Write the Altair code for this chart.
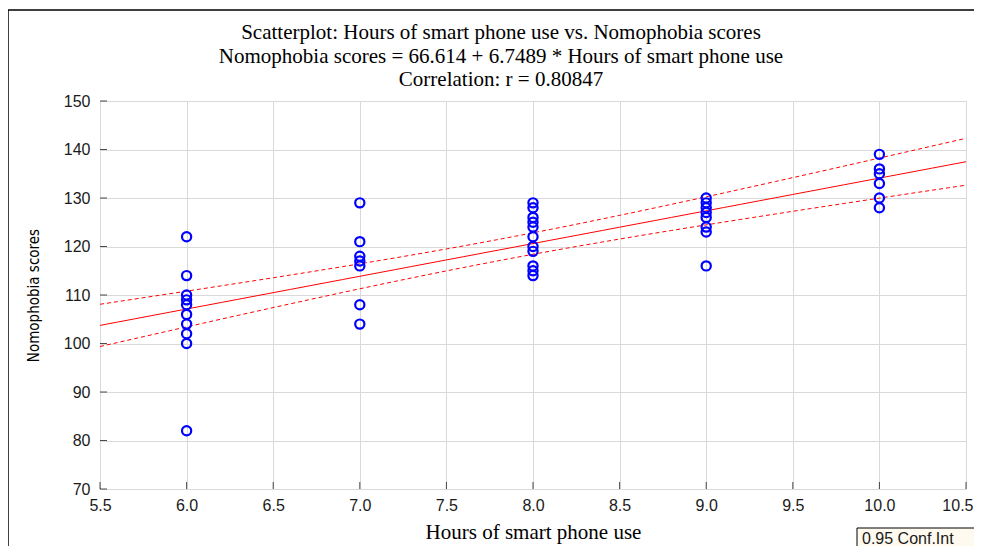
import altair as alt
import numpy as np
import pandas as pd

# ---- data ----
hours_6 = [122, 114, 110, 109, 108, 106, 104, 102, 100, 82]
hours_7 = [129, 121, 118, 117, 116, 108, 104]
hours_8 = [129, 128, 126, 125, 124, 122, 120, 119, 116, 115, 114]
hours_9 = [130, 129, 128, 127, 126, 124, 123, 116]
hours_10 = [139, 136, 135, 133, 130, 128]

intercept = 66.614
slope = 6.7489
x_ticks = [5.5, 6.0, 6.5, 7.0, 7.5, 8.0, 8.5, 9.0, 9.5, 10.0, 10.5]
y_ticks = [70, 80, 90, 100, 110, 120, 130, 140, 150]

title_lines = [
    "Scatterplot: Hours of smart phone use vs. Nomophobia scores",
    "Nomophobia scores = 66.614 + 6.7489 * Hours of smart phone use",
    "Correlation: r = 0.80847",
]
legend_label = ["0.95 Conf.Int"]

# ---- tables ----
rows = []
for h, vals in [(6, hours_6), (7, hours_7), (8, hours_8), (9, hours_9), (10, hours_10)]:
    for v in vals:
        rows.append({"hours": float(h), "score": float(v)})
pts = pd.DataFrame(rows)

xs = pts["hours"].to_numpy()
ys = pts["score"].to_numpy()
n = len(xs)
resid = ys - (intercept + slope * xs)
s = np.sqrt(np.sum(resid ** 2) / (n - 2))
xbar = xs.mean()
sxx = np.sum((xs - xbar) ** 2)
tcrit = 2.021
grid = np.linspace(5.5, 10.5, 51)
fit = intercept + slope * grid
half = tcrit * s * np.sqrt(1.0 / n + (grid - xbar) ** 2 / sxx)
lines = pd.DataFrame({"hours": grid, "fit": fit, "lo": fit - half, "hi": fit + half})

W, H = 866, 388
xscale = alt.Scale(domain=[5.5, 10.5], nice=False, zero=False)
yscale = alt.Scale(domain=[70, 150], nice=False, zero=False)

label_font = "Liberation Sans"
serif = "Liberation Serif"

points = alt.Chart(pts).mark_point(
    shape="circle", filled=False, color="#0000ff", strokeWidth=2.2, size=85, opacity=1
).encode(
    x=alt.X("hours:Q", scale=xscale,
            axis=alt.Axis(values=x_ticks, format=".1f", title="Hours of smart phone use",
                          grid=True, gridColor="#d9d9d9", ticks=False, domain=False,
                          labelFont=label_font, labelFontSize=16, labelColor="#1a1a1a",
                          labelPadding=8, titleFont=serif, titleFontSize=21,
                          titleFontWeight="normal", titleColor="#000000", titlePadding=8,
                          labelFlush=False,
                          labelAlign=alt.expr("datum.value >= 10.5 ? 'right' : 'center'"),
                          labelOffset=alt.expr("datum.value >= 10.5 ? 7 : 0"))),
    y=alt.Y("score:Q", scale=yscale,
            axis=alt.Axis(values=y_ticks, title="Nomophobia scores",
                          grid=True, gridColor="#d9d9d9", ticks=False, domain=False,
                          labelFont=label_font, labelFontSize=16, labelColor="#1a1a1a",
                          labelPadding=10,
                          titleFont="Liberation Sans Narrow, DejaVu Sans Condensed, sans-serif",
                          titleFontSize=15, titleFontWeight="normal", titleColor="#000000",
                          titlePadding=22, labelFlush=False)),
)

base_line = alt.Chart(lines)
fit_line = base_line.mark_line(color="#ff0000", strokeWidth=1).encode(
    x=alt.X("hours:Q", scale=xscale), y=alt.Y("fit:Q", scale=yscale))
lo_line = base_line.mark_line(color="#ff0000", strokeWidth=1, strokeDash=[4, 3]).encode(
    x=alt.X("hours:Q", scale=xscale), y=alt.Y("lo:Q", scale=yscale))
hi_line = base_line.mark_line(color="#ff0000", strokeWidth=1, strokeDash=[4, 3]).encode(
    x=alt.X("hours:Q", scale=xscale), y=alt.Y("hi:Q", scale=yscale))

xt = alt.Chart(pd.DataFrame({"t": x_ticks})).mark_tick(
    color="#000000", thickness=1, size=7, orient="vertical").encode(
    x=alt.X("t:Q", scale=xscale), y=alt.value(H - 3.5))
yt = alt.Chart(pd.DataFrame({"t": y_ticks})).mark_tick(
    color="#000000", thickness=1, size=7, orient="horizontal").encode(
    y=alt.Y("t:Q", scale=yscale), x=alt.value(3.5))

frame = alt.Chart(pd.DataFrame({"a": [0]})).mark_rect(
    fill=None, stroke="#000000", strokeWidth=1.5).encode(
    x=alt.value(-92), x2=alt.value(W + 40), y=alt.value(-91), y2=alt.value(H + 80))

title_layers = []
for line, ypos in zip(title_lines, [-68, -44, -21]):
    title_layers.append(
        alt.Chart(pd.DataFrame({"line": [line]})).mark_text(
            font=serif, fontSize=21, align="center", baseline="middle", color="#000000"
        ).encode(text="line:N", x=alt.value(401), y=alt.value(ypos))
    )

legend_box = alt.Chart(pd.DataFrame({"a": [0]})).mark_rect(
    fill="#fffaf0", stroke="#000000", strokeWidth=1).encode(
    x=alt.value(757), x2=alt.value(W + 40), y=alt.value(427), y2=alt.value(H + 80))
legend_text = alt.Chart(pd.DataFrame({"label": legend_label})).mark_text(
    font=label_font, fontSize=16, align="left", baseline="top", color="#1a1a1a").encode(
    x=alt.value(762), y=alt.value(430), text="label:N")

chart = alt.layer(
    frame, xt, yt, hi_line, lo_line, fit_line, points, *title_layers, legend_box, legend_text
).properties(
    width=W, height=H,
    autosize=alt.AutoSizeParams(type="none"),
    padding={"left": 92, "top": 93, "right": 8, "bottom": 58},
).configure_view(stroke="#000000", strokeWidth=1.5).configure(background="#ffffff")

chart.save("out.html", embed_options={"renderer": "svg", "actions": False})
